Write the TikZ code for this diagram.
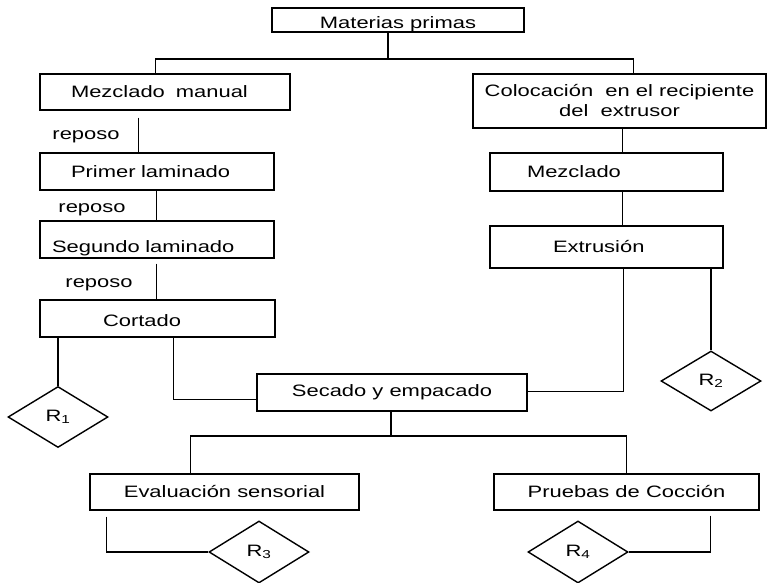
\documentclass[tikz,border=0pt]{standalone}
\usepackage{fontspec}
\setmainfont{Liberation Sans}[FakeStretch=1.33]
\usetikzlibrary{shapes.geometric}
\newcommand{\flowfont}{\fontsize{16.5}{20}\selectfont}

\begin{document}
\begin{tikzpicture}[x=1pt,y=-1pt,
  line width=1.4pt,
  stepbox/.style={draw, rectangle, inner sep=0pt, font=\flowfont, align=center},
  leftbox/.style 2 args={text width=#1, align=left,
    execute at begin node={\hspace*{#2}}},
  lowtext/.style 2 args={text height=#1, text depth=#2},
  decision/.style={draw, diamond, inner sep=0pt, minimum width=100pt,
    minimum height=61pt, font=\flowfont},
  note/.style={font=\flowfont, inner sep=0pt}]

\useasboundingbox (0,0) rectangle (768,583);

% process steps
\node[stepbox, minimum width=252pt, minimum height=24pt, lowtext={20pt}{3pt}] (mp) at (398,20) {Materias primas};
\node[stepbox, minimum height=36pt, leftbox={250pt}{31pt}] (mm) at (165,92) {Mezclado~ manual};
\node[stepbox, minimum height=37pt, leftbox={234pt}{31pt}] (pl) at (157,171.5) {Primer laminado};
\node[stepbox, minimum height=37pt, leftbox={234pt}{12pt}, lowtext={28pt}{3pt}] (sl) at (157,239.5) {Segundo laminado};
\node[stepbox, minimum height=37pt, leftbox={235pt}{63pt}, lowtext={20pt}{4pt}] (ct) at (157.5,318.5) {Cortado};
\node[stepbox, minimum width=293pt, minimum height=54pt] (col) at (619.5,101) {Colocación~ en el recipiente\\del~ extrusor};
\node[stepbox, minimum height=38pt, leftbox={233pt}{37pt}] (mz) at (606.5,172) {Mezclado};
\node[stepbox, minimum height=42pt, leftbox={233pt}{63pt}] (ex) at (606.5,247) {Extrusión};
\node[stepbox, minimum width=270pt, minimum height=37pt] (se) at (392,392.5) {Secado y empacado};
\node[stepbox, minimum width=269pt, minimum height=36pt] (ev) at (224.5,492) {Evaluación sensorial};
\node[stepbox, minimum width=265pt, minimum height=36pt] (pc) at (626.5,492) {Pruebas de Cocción};

% results
\node[decision] (r1) at (58,417) {R\textsubscript{1}};
\node[decision, minimum height=60pt] (r2) at (711,381) {R\textsubscript{2}};
\node[decision, minimum height=62pt] (r3) at (259,552) {R\textsubscript{3}};
\node[decision, minimum height=62pt] (r4) at (578,552) {R\textsubscript{4}};

% resting notes
\node[note] (rep1) at (86,137) {reposo};
\node[note] (rep2) at (92,210) {reposo};
\node[note] (rep3) at (99,285) {reposo};

% connectors
\coordinate (j1) at (388,59);
\draw (mp.south -| j1) -- (j1);
\draw ([xshift=116pt]mm.north west) |- (j1) -| ([xshift=161pt]col.north west);

\draw ([xshift=99pt,yshift=-7pt]mm.south west) -- ([xshift=99pt]pl.north west);
\draw ([xshift=117pt]pl.south west) -- ([xshift=117pt]sl.north west);
\draw ([xshift=117pt,yshift=-5pt]sl.south west) -- ([xshift=117pt]ct.north west);
\draw (ct.south -| r1.north) -- (r1.north);
\draw ([xshift=134pt]ct.south west) |- ([yshift=12pt]se.south west);

\draw ([xshift=150pt]col.south west) -- ([xshift=133pt]mz.north west);
\draw ([xshift=133pt]mz.south west) -- ([xshift=133pt]ex.north west);
\draw ([xshift=134pt]ex.south west) |- ([yshift=20pt]se.south east);
\draw (ex.south -| r2.north) -- (r2.north);

\coordinate (j2) at (391,436);
\draw (se.south -| j2) -- (j2);
\draw ([xshift=101pt]ev.north west) |- (j2) -| ([xshift=133pt]pc.north west);
\draw ([xshift=17pt,yshift=-6pt]ev.south west) |- (r3.west);
\draw ([xshift=217pt,yshift=-5pt]pc.south west) |- (r4.east);
\end{tikzpicture}
\end{document}
